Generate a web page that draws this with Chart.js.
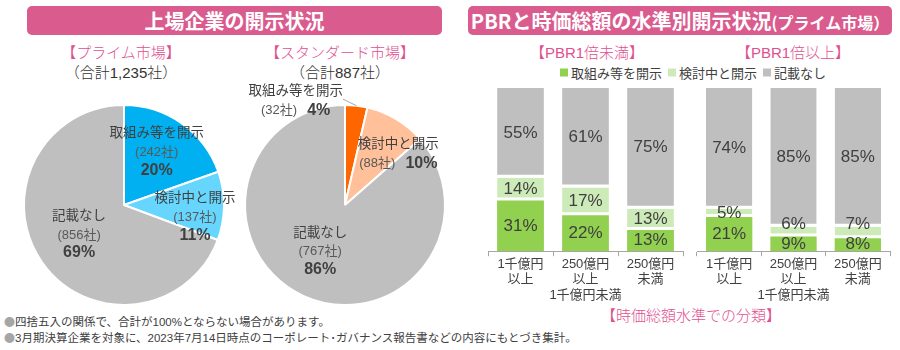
<!DOCTYPE html>
<html>
<head>
<meta charset="utf-8">
<script src="https://cdn.jsdelivr.net/npm/chart.js@4.4.1/dist/chart.umd.min.js"></script>
<style>
  body { margin: 0; width: 900px; height: 350px; position: relative; overflow: hidden; background: #fff;
         font-family: "Liberation Sans", "Noto Sans CJK JP", sans-serif; color: #404040; }
  .head { position: absolute; top: 6px; height: 29px; background: #DA5B8E; border-radius: 5px; color: #fff;
          font-weight: bold; font-size: 20px; line-height: 29px; text-align: center; white-space: nowrap;
          font-family: "Noto Sans CJK JP", sans-serif; }
  .head small { font-size: 16px; }
  .c { position: absolute; transform: translate(-50%, -50%); white-space: nowrap; line-height: 1; }
  .pink { color: #E0508F; font-size: 15px; font-weight: 300; }
  .sum { font-size: 15px; color: #333; font-weight: 300; }
  .legend { font-size: 13px; color: #404040; }
  .legend i { display: inline-block; width: 8px; height: 8px; margin: 0 3px 0 6px; vertical-align: 1px; }
  .note { position: absolute; left: 4px; font-size: 11.5px; line-height: 1; white-space: nowrap; color: #404040; transform: translateY(-50%); }
  .note b { color: #A6A6A6; font-weight: normal; font-family: "Noto Sans CJK JP", sans-serif; font-size: 11px; }
  canvas { position: absolute; }
</style>
</head>
<body>
<div class="head" style="left:27px;width:415px;">上場企業の開示状況</div>
<div class="head" style="left:468px;width:424px;">PBRと時価総額の水準別開示状況<small>(プライム市場）</small></div>

<div class="c pink" style="left:121px;top:52px;">【プライム市場】</div>
<div class="c sum" style="left:121px;top:72px;">（合計1,235社）</div>
<div class="c pink" style="left:340px;top:52px;">【スタンダード市場】</div>
<div class="c sum" style="left:340px;top:72px;">（合計887社）</div>

<div class="c pink" style="left:587px;top:52px;">【PBR1倍未満】</div>
<div class="c pink" style="left:793px;top:52px;">【PBR1倍以上】</div>
<div class="c legend" style="left:690px;top:73px;" id="legend"></div>
<div class="c pink" style="left:691px;top:315px;">【時価総額水準での分類】</div>

<div class="note" style="top:322px;"><b>●</b>四捨五入の関係で、合計が100%とならない場合があります。</div>
<div class="note" style="top:338px;"><b>●</b>3月期決算企業を対象に、2023年7月14日時点のコーポレート･ガバナンス報告書などの内容にもとづき集計。</div>

<canvas id="primePie" width="240" height="230" style="left:0;top:80px;"></canvas>
<canvas id="standardPie" width="220" height="230" style="left:230px;top:80px;"></canvas>
<canvas id="lowPbr" width="210" height="223" style="left:480px;top:80px;"></canvas>
<canvas id="highPbr" width="210" height="223" style="left:690px;top:80px;"></canvas>

<script>
// disclosure categories and counts (companies)
const PIE_CATEGORIES = ['取組み等を開示', '検討中と開示', '記載なし'];
const PRIME_COUNTS = [242, 137, 856];
const STANDARD_COUNTS = [32, 88, 767];

// PBR x market cap, prime market (%)
const CAP_LABELS = [['1千億円', '以上'], ['250億円', '以上', '1千億円未満'], ['250億円', '未満']];
const LOW_PBR_ACTION = [31, 22, 13];
const LOW_PBR_CONSIDER = [14, 17, 13];
const LOW_PBR_NONE = [55, 61, 75];
const HIGH_PBR_ACTION = [21, 9, 8];
const HIGH_PBR_CONSIDER = [5, 6, 7];
const HIGH_PBR_NONE = [74, 85, 85];

const BAR_COLORS = ['#92D050', '#CDEBB8', '#BFBFBF'];
const FONT = '"Liberation Sans", "Noto Sans CJK JP", sans-serif';

Chart.defaults.font.family = FONT;
Chart.defaults.color = '#404040';

document.getElementById('legend').innerHTML = PIE_CATEGORIES
  .map((name, i) => `<i style="background:${BAR_COLORS[i]}"></i>${name}`).join('');

// label layout per slice: r = fraction of radius, da = angle shift (deg) from slice middle
function makePieLabels(layout) {
  return {
    id: 'pieLabels',
    afterDatasetsDraw(chart) {
      const ctx = chart.ctx;
      const meta = chart.getDatasetMeta(0);
      const data = chart.data.datasets[0].data;
      const total = data.reduce((a, b) => a + b, 0);
      ctx.save();
      ctx.textAlign = 'center';
      ctx.textBaseline = 'middle';
      meta.data.forEach((arc, i) => {
        const p = arc.getProps(['x', 'y', 'startAngle', 'endAngle', 'outerRadius'], true);
        const lay = layout[i];
        const mid = (p.startAngle + p.endAngle) / 2;
        const a = mid + lay.da * Math.PI / 180;
        const cx = p.x + Math.cos(a) * p.outerRadius * lay.r;
        const cy = p.y + Math.sin(a) * p.outerRadius * lay.r;
        const name = chart.data.labels[i];
        const count = '(' + data[i] + '社)';
        const pct = Math.round(data[i] / total * 100) + '%';
        const nameFont = '13.5px ' + FONT, countFont = '13px ' + FONT, pctFont = 'bold 16px ' + FONT;
        if (lay.inline) {
          ctx.font = nameFont; ctx.fillStyle = '#404040';
          ctx.fillText(name, cx, cy - 9.5);
          ctx.font = countFont;
          const wc = ctx.measureText(count).width;
          ctx.font = pctFont;
          const wp = ctx.measureText(pct).width;
          const gap = 10;
          const x0 = cx - (wc + gap + wp) / 2;
          ctx.font = countFont; ctx.fillStyle = '#595959';
          ctx.fillText(count, x0 + wc / 2, cy + 9.5);
          ctx.font = pctFont; ctx.fillStyle = '#404040';
          ctx.fillText(pct, x0 + wc + gap + wp / 2, cy + 9.5);
          if (lay.leader) {
            ctx.font = nameFont;
            const wn = ctx.measureText(name).width;
            ctx.strokeStyle = '#A6A6A6';
            ctx.lineWidth = 1;
            ctx.beginPath();
            ctx.moveTo(cx + wn / 2, cy - 2);
            ctx.lineTo(p.x + Math.cos(mid) * p.outerRadius, p.y + Math.sin(mid) * p.outerRadius);
            ctx.stroke();
          }
        } else {
          ctx.font = nameFont; ctx.fillStyle = '#404040';
          ctx.fillText(name, cx, cy - 19);
          ctx.font = countFont; ctx.fillStyle = '#595959';
          ctx.fillText(count, cx, cy);
          ctx.font = pctFont; ctx.fillStyle = '#404040';
          ctx.fillText(pct, cx, cy + 18);
        }
      });
      ctx.restore();
    }
  };
}

function makePie(id, counts, colors, padding, layout) {
  return new Chart(document.getElementById(id), {
    type: 'pie',
    data: {
      labels: PIE_CATEGORIES,
      datasets: [{ data: counts, backgroundColor: colors, borderColor: '#fff', borderWidth: 2 }]
    },
    options: {
      responsive: false,
      animation: false,
      layout: { padding },
      plugins: { legend: { display: false }, tooltip: { enabled: false } }
    },
    plugins: [makePieLabels(layout)]
  });
}

makePie('primePie', PRIME_COUNTS, ['#00B0F0', '#66D6FF', '#BFBFBF'],
  { left: 23, top: 24, right: 15, bottom: 4 },
  [{ r: 0.62, da: -3.4 }, { r: 0.72, da: 9.2 }, { r: 0.54, da: 1 }]);

makePie('standardPie', STANDARD_COUNTS, ['#FF6600', '#FFC09A', '#BFBFBF'],
  { left: 14, top: 24, right: 4, bottom: 4 },
  [{ r: 1.15, da: -31.9, inline: true, leader: true }, { r: 0.74, da: 15.3, inline: true }, { r: 0.53, da: 3.6 }]);

// value labels centred in each segment, pushed up when they would collide
const barValueLabels = {
  id: 'barValueLabels',
  afterDatasetsDraw(chart) {
    const ctx = chart.ctx;
    ctx.save();
    ctx.font = '17px ' + FONT;
    ctx.fillStyle = '#404040';
    ctx.textAlign = 'center';
    ctx.textBaseline = 'middle';
    chart.data.labels.forEach((_, i) => {
      let prevY = Infinity;
      chart.data.datasets.forEach((ds, d) => {
        const bar = chart.getDatasetMeta(d).data[i];
        let y = (bar.y + bar.base) / 2;
        if (prevY - y < 20) y = prevY - 20;
        ctx.fillText(ds.data[i] + '%', bar.x, y);
        prevY = y;
      });
    });
    ctx.restore();
  }
};

function makeBars(id, action, consider, none, padding) {
  const gap = { top: 0, left: 0, right: 0, bottom: 3 };
  return new Chart(document.getElementById(id), {
    type: 'bar',
    data: {
      labels: CAP_LABELS,
      datasets: [
        { label: PIE_CATEGORIES[0], data: action, backgroundColor: BAR_COLORS[0], borderWidth: 0 },
        { label: PIE_CATEGORIES[1], data: consider, backgroundColor: BAR_COLORS[1], borderColor: '#fff', borderWidth: gap, borderSkipped: false },
        { label: PIE_CATEGORIES[2], data: none, backgroundColor: BAR_COLORS[2], borderColor: '#fff', borderWidth: gap, borderSkipped: false }
      ]
    },
    options: {
      responsive: false,
      animation: false,
      layout: { padding },
      barPercentage: 0.72,
      categoryPercentage: 1,
      plugins: { legend: { display: false }, tooltip: { enabled: false } },
      scales: {
        x: {
          stacked: true,
          grid: { drawOnChartArea: false, color: '#A6A6A6', tickLength: 5 },
          border: { color: '#A6A6A6' },
          ticks: { color: '#404040', font: { size: 13, lineHeight: 1.2 }, padding: 0, maxRotation: 0, minRotation: 0, autoSkip: false }
        },
        y: { stacked: true, display: false, min: 0, max: 100 }
      }
    },
    plugins: [barValueLabels]
  });
}

makeBars('lowPbr', LOW_PBR_ACTION, LOW_PBR_CONSIDER, LOW_PBR_NONE, { left: 8, right: 7, top: 8, bottom: 0 });
makeBars('highPbr', HIGH_PBR_ACTION, HIGH_PBR_CONSIDER, HIGH_PBR_NONE, { left: 7, right: 10, top: 8, bottom: 0 });
</script>
</body>
</html>
